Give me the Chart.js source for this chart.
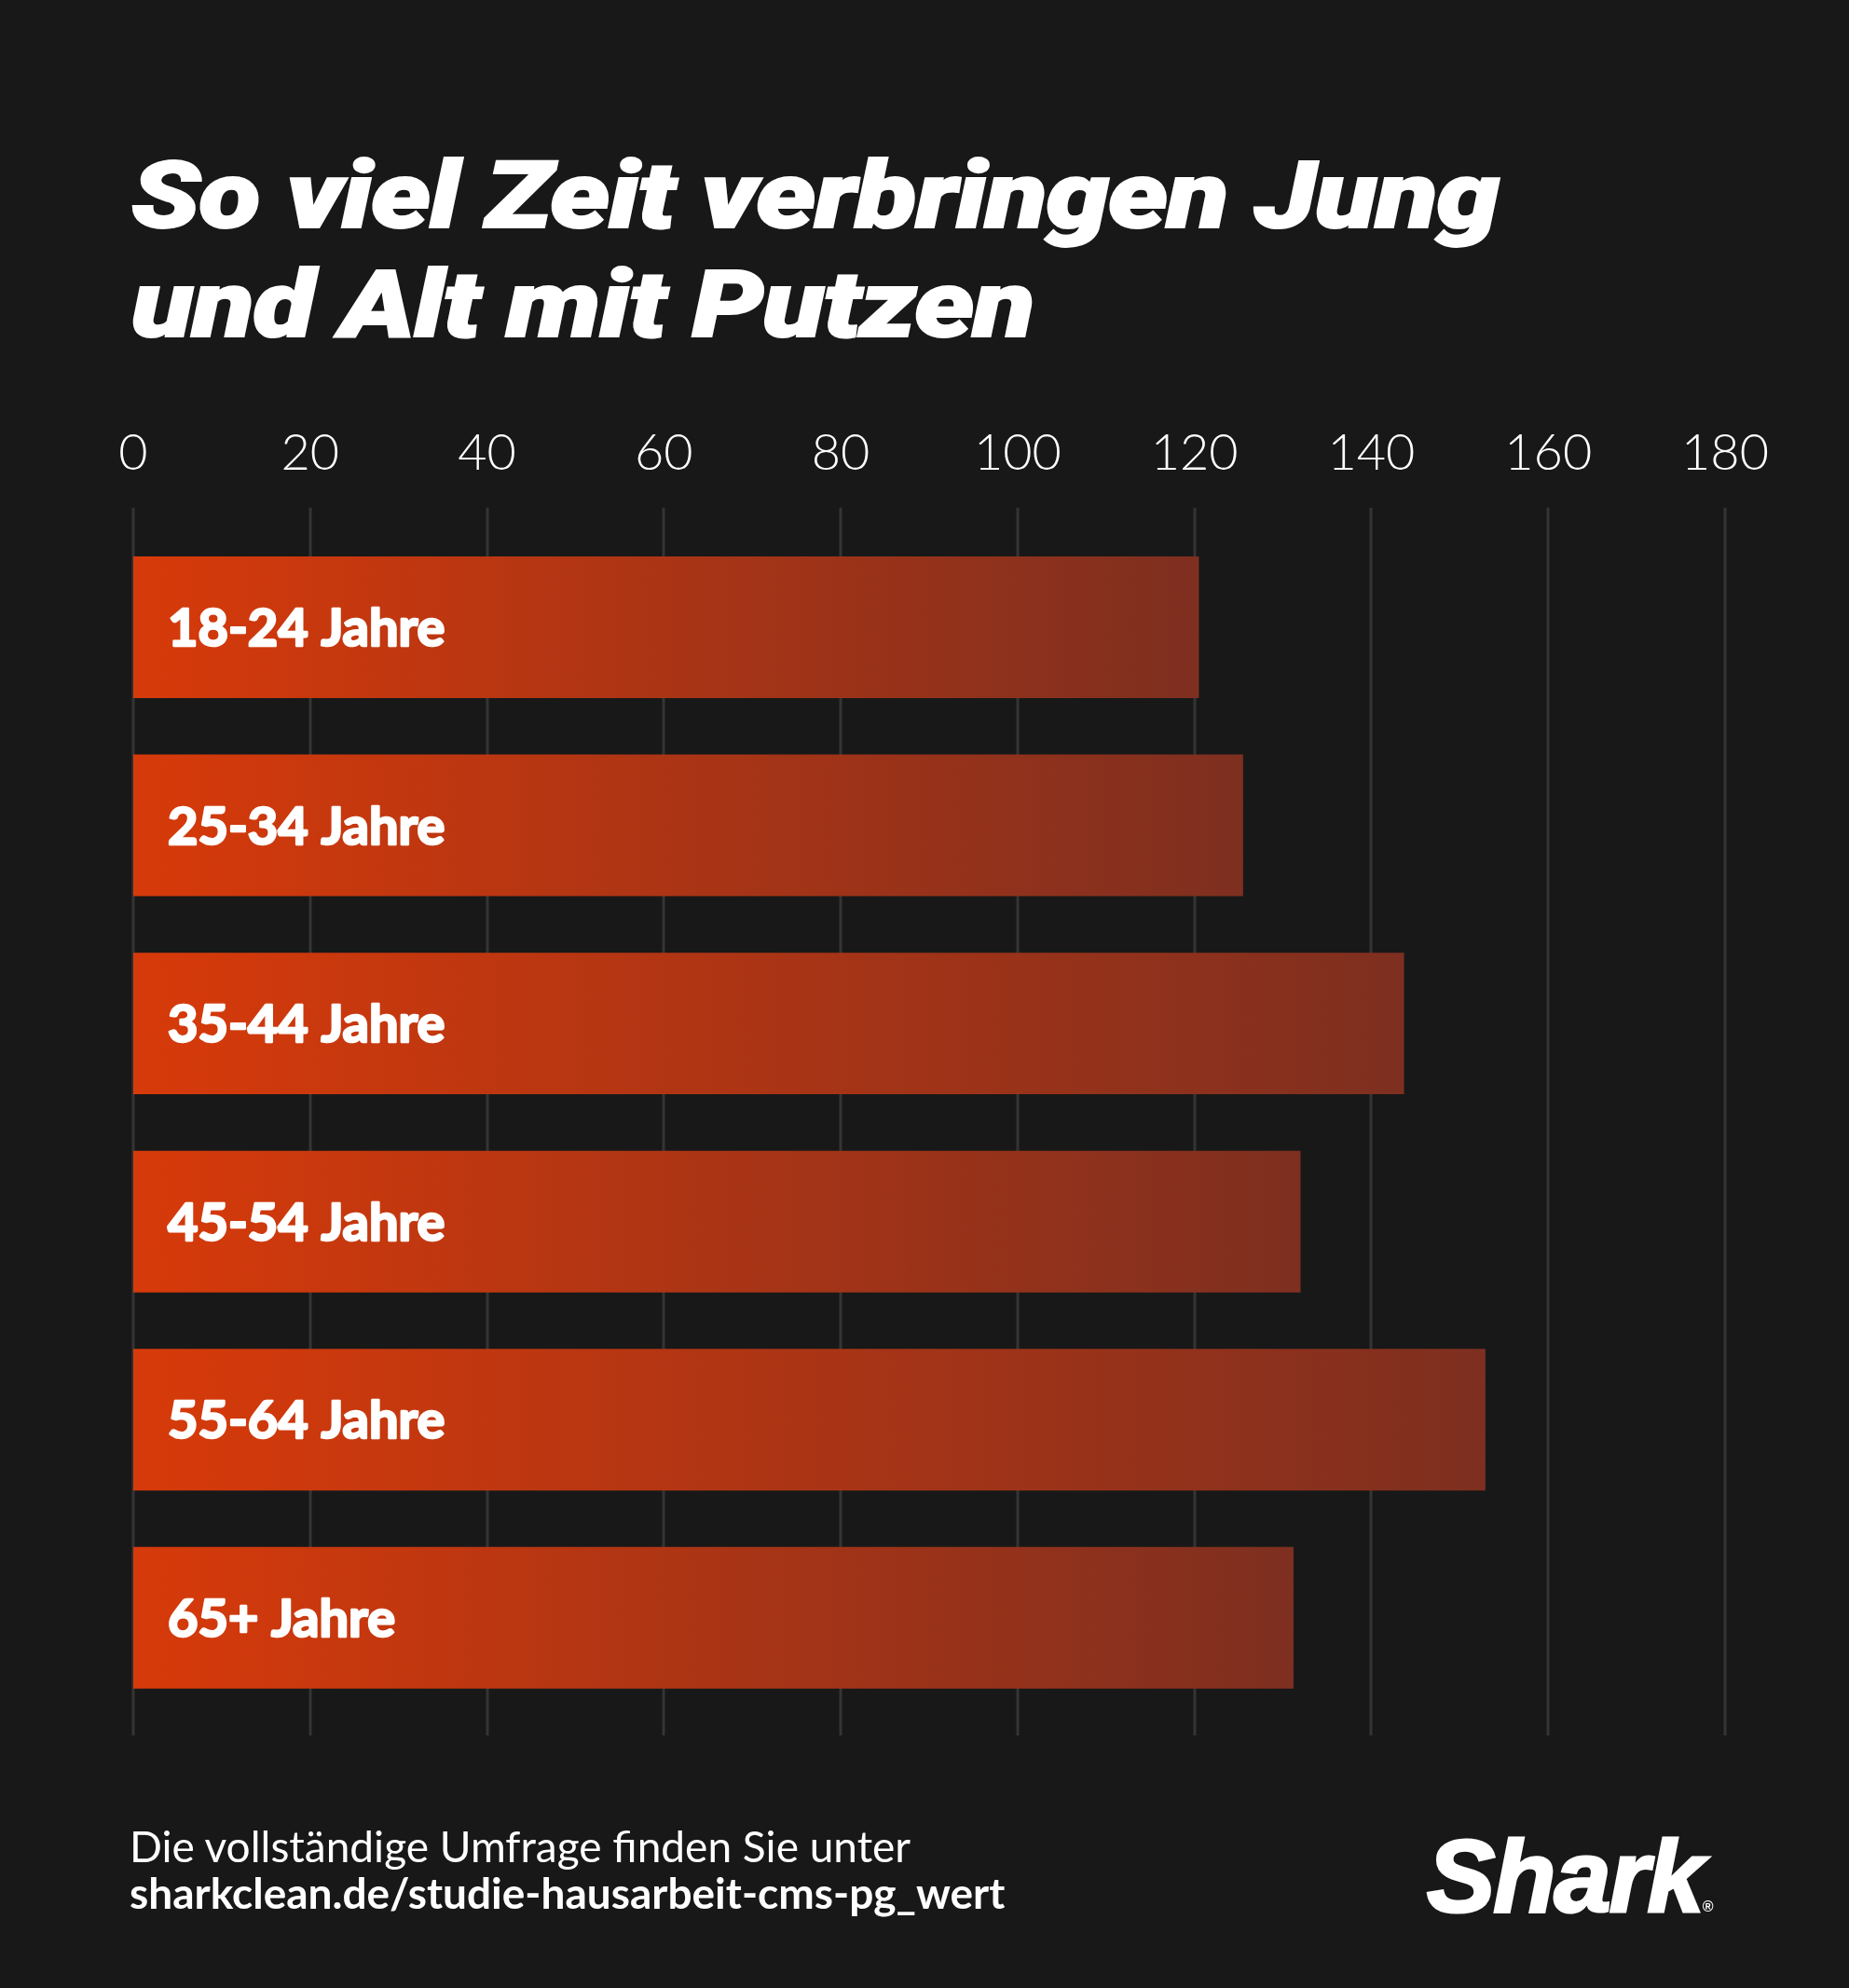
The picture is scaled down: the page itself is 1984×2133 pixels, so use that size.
<!DOCTYPE html>
<html lang="de">
<head>
<meta charset="UTF-8">
<title>So viel Zeit verbringen Jung und Alt mit Putzen</title>
<script src="https://cdn.jsdelivr.net/npm/chart.js"></script>
<style>
  html, body { margin: 0; padding: 0; background: #181818; }
  body { width: 1984px; height: 2133px; position: relative; overflow: hidden; font-family: 'Lato', sans-serif; color: #fff; }
  .t { position: absolute; white-space: nowrap; line-height: 1.2; }
  .title { left: 141px; font-family: 'Roboto', sans-serif; font-size: 100px; font-weight: 900; font-style: italic; letter-spacing: -1px; -webkit-text-stroke: 2px #fff; transform-origin: 0 0; }
  .foot1 { left: 139px; top: 1953px; font-size: 46px; font-weight: 400; }
  .foot2 { left: 139px; top: 2003px; font-size: 46px; font-weight: 700; }
  .logo { left: 1531px; top: 1949px; font-family: 'Liberation Sans', Arial, sans-serif; font-size: 110px; font-weight: 700; font-style: italic; letter-spacing: -2px; -webkit-text-stroke: 3px #fff; line-height: normal; }
  .logo sup { font-size: 16px; font-style: normal; -webkit-text-stroke: 0; letter-spacing: 0; vertical-align: baseline; }
  #wrap { position: absolute; left: 0; top: 0; width: 1984px; height: 2133px; }
</style>
</head>
<body>
<div id="wrap"><canvas id="chart" width="1984" height="2133"></canvas></div>
<div class="t title" id="title1" style="top:150px">So viel Zeit verbringen Jung</div>
<div class="t title" id="title2" style="top:267px">und Alt mit Putzen</div>
<div class="t foot1">Die vollständige Umfrage finden Sie unter</div>
<div class="t foot2">sharkclean.de/studie-hausarbeit-cms-pg_wert</div>
<div class="t logo">Shark<sup>®</sup></div>

<script>
const ageGroups = ['18-24 Jahre', '25-34 Jahre', '35-44 Jahre', '45-54 Jahre', '55-64 Jahre', '65+ Jahre'];
const minutes = [120.5, 125.5, 143.7, 132, 152.9, 131.2];
const tickValues = [0, 20, 40, 60, 80, 100, 120, 140, 160, 180];

// stretch the title so the first line is as wide as in the original
const t1 = document.getElementById('title1');
const sx = 1467 / t1.getBoundingClientRect().width;
document.querySelectorAll('.title').forEach(el => { el.style.transform = 'scaleX(' + sx + ')'; });

// gradient from the bar's base to its end
function barGradient(context) {
  const chart = context.chart;
  const { ctx, chartArea, scales } = chart;
  if (!chartArea || !scales.x) return '#b0361a';
  const x0 = scales.x.getPixelForValue(0);
  const x1 = scales.x.getPixelForValue(context.raw);
  const g = ctx.createLinearGradient(x0, 0, x1, 0);
  g.addColorStop(0, '#d73a0a');
  g.addColorStop(1, '#7e2f20');
  return g;
}

// vertical grid lines, a bit longer than the plot area
const gridPlugin = {
  id: 'longGrid',
  beforeDatasetsDraw(chart) {
    const { ctx, scales } = chart;
    ctx.save();
    ctx.strokeStyle = '#343434';
    ctx.lineWidth = 3;
    scales.x.ticks.forEach(t => {
      const x = Math.round(scales.x.getPixelForValue(t.value));
      ctx.beginPath();
      ctx.moveTo(x, chart.chartArea.top - 22);
      ctx.lineTo(x, chart.chartArea.bottom + 20);
      ctx.stroke();
    });
    ctx.restore();
  }
};

// category names written inside the bars
const labelPlugin = {
  id: 'innerLabels',
  afterDatasetsDraw(chart) {
    const { ctx, scales } = chart;
    ctx.save();
    ctx.fillStyle = '#ffffff';
    ctx.strokeStyle = '#ffffff';
    ctx.lineWidth = 2.5;
    ctx.lineJoin = 'round';
    ctx.font = '700 56px Lato';
    ctx.textBaseline = 'middle';
    ctx.textAlign = 'left';
    ageGroups.forEach((name, i) => {
      const y = scales.y.getPixelForValue(i);
      const x = scales.x.getPixelForValue(0) + 37;
      ctx.strokeText(name, x, y + 2);
      ctx.fillText(name, x, y + 2);
    });
    ctx.restore();
  }
};

new Chart(document.getElementById('chart'), {
  type: 'bar',
  data: {
    labels: ageGroups,
    datasets: [{
      data: minutes,
      backgroundColor: barGradient,
      borderWidth: 0,
      categoryPercentage: 1,
      barPercentage: 0.715
    }]
  },
  options: {
    indexAxis: 'y',
    responsive: false,
    animation: false,
    devicePixelRatio: 1,
    layout: { padding: { left: 143, right: 133, top: 406, bottom: 291 } },
    plugins: { legend: { display: false }, tooltip: { enabled: false } },
    scales: {
      x: {
        position: 'top',
        min: 0,
        max: 180,
        afterBuildTicks: axis => { axis.ticks = tickValues.map(v => ({ value: v })); },
        grid: { display: false, drawTicks: false },
        border: { display: false },
        ticks: { color: '#ffffff', font: { family: 'Lato', size: 54, weight: 300 }, padding: 48 }
      },
      y: {
        display: false,
        grid: { display: false }
      }
    }
  },
  plugins: [gridPlugin, labelPlugin]
});
</script>
</body>
</html>
